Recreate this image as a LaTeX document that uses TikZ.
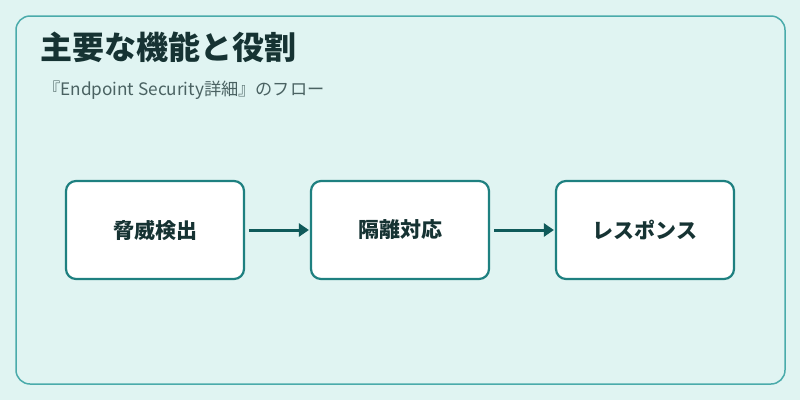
\documentclass[tikz,border=0pt]{standalone}
\usepackage{fontspec}
\setmainfont{Noto Sans CJK JP}
\usetikzlibrary{arrows.meta}
\definecolor{bgc}{HTML}{E0F4F2}
\definecolor{framec}{HTML}{4AABAB}
\definecolor{boxc}{HTML}{1E8080}
\definecolor{arrc}{HTML}{0F5A5A}
\definecolor{titlec}{HTML}{163333}
\definecolor{subc}{HTML}{4A6262}
\tikzset{
  stepbox/.style={draw=boxc, line width=2.2pt, fill=white, rounded corners=10pt,
    minimum width=178pt, minimum height=98pt, inner sep=0pt,
    font=\fontsize{21}{24}\selectfont\bfseries, text=titlec},
  flow/.style={draw=arrc, line width=3pt, -{Triangle[length=10pt,width=13pt]}},
}
\begin{document}
\begin{tikzpicture}[x=1pt,y=-1pt]
\useasboundingbox (0,0) rectangle (800,400);
\fill[bgc] (0,0) rectangle (800,400);
\draw[framec, line width=1.5pt, rounded corners=14pt] (16,16) rectangle (785,384);
\node[anchor=base west, inner sep=0pt, text=titlec, font=\fontsize{32}{36}\selectfont\bfseries] (title) at (40,59) {主要な機能と役割};
\node[anchor=base west, inner sep=0pt, text=subc, font=\fontsize{17.2}{20}\selectfont] (sub) at (43,95) {『Endpoint Security詳細』のフロー};
\node[stepbox] (a) at (155,230) {脅威検出};
\node[stepbox] (b) at (400,230) {隔離対応};
\node[stepbox] (c) at (645,230) {レスポンス};
\draw[flow] ([xshift=4pt]a.east) -- ([xshift=-1pt]b.west);
\draw[flow] ([xshift=4pt]b.east) -- ([xshift=-1pt]c.west);
\end{tikzpicture}
\end{document}
